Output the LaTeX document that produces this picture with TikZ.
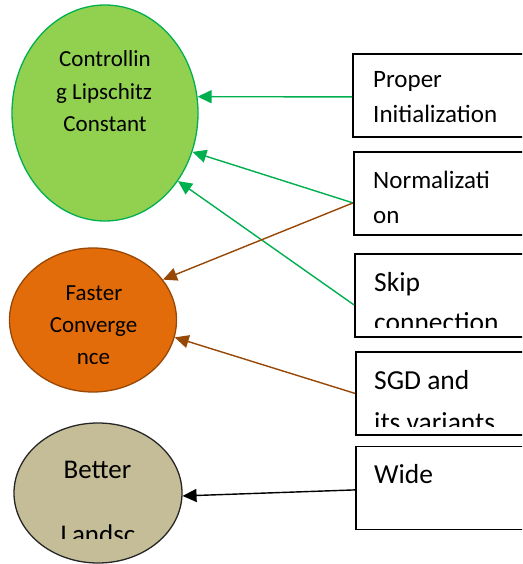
\documentclass[tikz,border=0pt]{standalone}
\usepackage{fontspec}
\setmainfont{Carlito}
\usetikzlibrary{shapes.geometric,arrows.meta}

\definecolor{lipfill}{HTML}{92D050}
\definecolor{lipline}{HTML}{00B050}
\definecolor{convfill}{HTML}{E36C0A}
\definecolor{convline}{HTML}{984806}
\definecolor{landfill}{HTML}{C4BD97}
\definecolor{landline}{HTML}{262626}

\tikzset{
  goal/.style={ellipse, inner sep=0pt, line width=1.3pt},
  method/.style={rectangle, draw=black, line width=1.8pt, fill=white,
    minimum width=200pt, minimum height=83pt, anchor=north west, inner sep=0pt},
  ctext/.style={anchor=base, inner sep=0pt, font=\fontsize{23}{28}\selectfont},
  btext/.style={anchor=base west, inner sep=0pt, font=\fontsize{25}{30}\selectfont},
  bigtext/.style={anchor=base west, inner sep=0pt, font=\fontsize{27.5}{32}\selectfont},
  link/.style={line width=1.4pt, -{Triangle[length=14pt,width=13pt]}},
  glink/.style={link, draw=lipline, fill=lipline},
  olink/.style={link, draw=convline, fill=convline},
  klink/.style={link, draw=black, fill=black},
}

\begin{document}
\begin{tikzpicture}[x=1pt, y=-1pt]
  \clip (0,0) rectangle (522,564);
  \fill[white] (0,0) rectangle (522,564);

  % goals
  \node[goal, draw=lipline, fill=lipfill, minimum width=186pt, minimum height=216pt]
    (lip) at (105,113) {};
  \node[goal, draw=convline, fill=convfill, minimum width=167pt, minimum height=144pt]
    (conv) at (93,320) {};
  \node[goal, draw=landline, fill=landfill, minimum width=168pt, minimum height=140pt]
    (land) at (98,493) {};

  % goal labels
  \node[ctext] (lip1) at (105,67) {Controllin};
  \node[ctext] (lip2) at (104,100) {g Lipschitz};
  \node[ctext] (lip3) at (105,132) {Constant};

  \node[ctext] (conv1) at (94,300) {Faster};
  \node[ctext] (conv2) at (93.5,332) {Converge};
  \begin{scope}
    \clip (20,340) rectangle (170,363.5);
    \node[ctext] (conv3) at (93.5,364.5) {nce};
  \end{scope}

  \node[ctext, font=\fontsize{27}{32}\selectfont] (land1) at (97.5,478) {Better};
  \begin{scope}
    \clip (20,500) rectangle (170,538);
    \node[ctext, font=\fontsize{27}{32}\selectfont] (land2) at (98,543) {Landsc};
  \end{scope}

  % methods
  \node[method] (init) at (352,53) {};
  \node[method] (norm) at (353,151) {};
  \node[method] (skip) at (354,253) {};
  \node[method] (sgd)  at (355,351) {};
  \node[method] (wide) at (355,445.5) {};

  % method labels
  \node[btext] (init1) at (373,88) {Proper};
  \node[btext] (init2) at (373,123) {Initialization};
  \node[btext] (norm1) at (373,188) {Normalizati};
  \node[btext] (norm2) at (373,223) {on};
  \node[bigtext] (skip1) at (374,291) {Skip};
  \begin{scope}
    \clip (360,300) rectangle (522,327);
    \node[bigtext] (skip2) at (374,331) {connection};
  \end{scope}
  \node[bigtext] (sgd1) at (374,389) {SGD and};
  \begin{scope}
    \clip (360,400) rectangle (522,426);
    \node[bigtext] (sgd2) at (374,431) {its variants};
  \end{scope}
  \node[bigtext] (wide1) at (374,483) {Wide};

  % links
  \draw[glink] ([yshift=-1.5pt]init.west) -- (lip.10.4);
  \draw[glink] ([yshift=-9.5pt]norm.west) -- (lip.-24.4);
  \draw[glink] ([yshift=-9.5pt]skip.west) -- (lip.-43.8);
  \draw[olink] ([yshift=-9.5pt]norm.west) -- (conv.30.6);
  \draw[olink] (sgd.west) -- (conv.-12.3);
  \draw[klink] ([yshift=-2pt]wide.west) -- (land.-2);
\end{tikzpicture}
\end{document}
